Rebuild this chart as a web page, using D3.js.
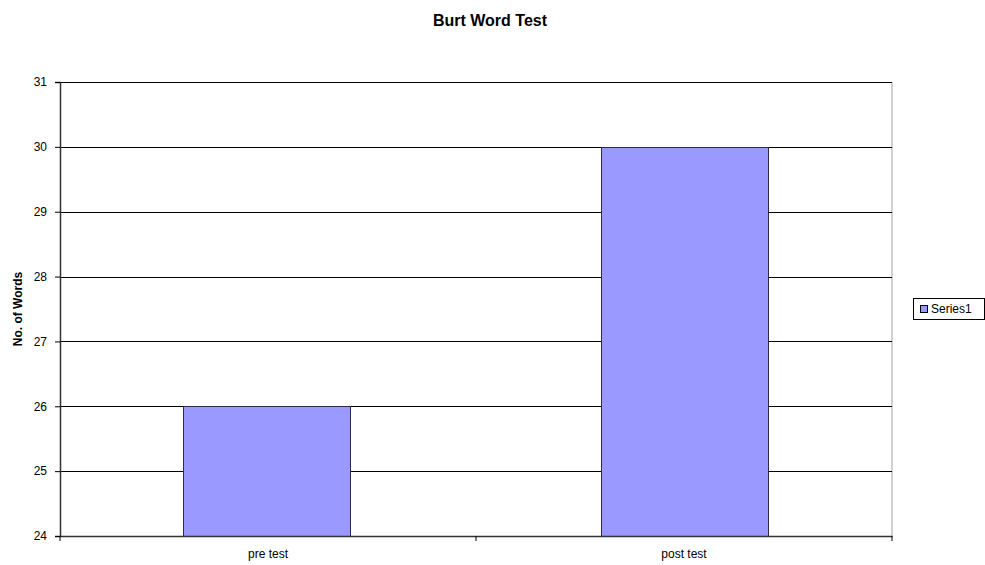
<!DOCTYPE html>
<html>
<head>
<meta charset="utf-8">
<script src="https://cdn.jsdelivr.net/npm/d3@7"></script>
<style>
  html, body { margin: 0; padding: 0; background: #fff; }
  svg { display: block; font-family: "Liberation Sans", Arial, sans-serif; }
</style>
</head>
<body>
<svg id="chart" width="985" height="565"></svg>
<script>
// Data
const categories = ["pre test", "post test"];
const series1 = [26, 30];
const yTicks = [24, 25, 26, 27, 28, 29, 30, 31];
const seriesName = "Series1";
const chartTitle = "Burt Word Test";
const yTitle = "No. of Words";

const svg = d3.select("#chart");
const plot = { left: 60, right: 892, top: 82, bottom: 536 };
const font = "'Liberation Sans', Arial, sans-serif";

const x = d3.scaleBand()
  .domain(categories)
  .range([plot.left, plot.right])
  .paddingInner(0.6)
  .paddingOuter(0.295);

const xCat = d3.scaleBand()
  .domain(categories)
  .range([plot.left, plot.right]);

const y = d3.scaleLinear()
  .domain([24, 31])
  .range([plot.bottom, plot.top]);

// Plot area right border
svg.append("line")
  .attr("x1", plot.right).attr("x2", plot.right)
  .attr("y1", plot.top).attr("y2", plot.bottom)
  .attr("stroke", "#c0c0c0").attr("stroke-width", 1.5);

// Gridlines
svg.append("g")
  .selectAll("line")
  .data(yTicks.filter(d => d > 24))
  .join("line")
  .attr("x1", plot.left).attr("x2", plot.right)
  .attr("y1", d => Math.round(y(d)) + 0.5)
  .attr("y2", d => Math.round(y(d)) + 0.5)
  .attr("stroke", "#000").attr("stroke-width", 1);

// Bars
svg.append("g")
  .selectAll("rect")
  .data(categories.map((c, i) => ({ c, v: series1[i] })))
  .join("rect")
  .attr("x", d => Math.round(x(d.c)) + 0.5)
  .attr("y", d => Math.round(y(d.v)) + 0.5)
  .attr("width", Math.round(x.bandwidth()))
  .attr("height", d => Math.round(y(24)) - Math.round(y(d.v)))
  .attr("fill", "#9999ff")
  .attr("stroke", "#2b2b4a")
  .attr("stroke-width", 1);

// Y axis
const yAxis = svg.append("g")
  .attr("transform", `translate(${plot.left},0)`)
  .call(d3.axisLeft(y).tickValues(yTicks).tickSize(5).tickPadding(8).tickFormat(d3.format("d")));
yAxis.select(".domain").attr("stroke", "#333").attr("stroke-width", 1.5);
yAxis.selectAll(".tick line").attr("stroke", "#000");
yAxis.selectAll("text").attr("font-size", 12).attr("fill", "#000").attr("font-family", font);

// X axis
const xAxis = svg.append("g")
  .attr("transform", `translate(0,${plot.bottom})`)
  .call(d3.axisBottom(xCat).tickSize(0).tickPadding(13));
xAxis.select(".domain").attr("stroke", "#333").attr("stroke-width", 1.5);
xAxis.selectAll("text").attr("font-size", 12).attr("fill", "#000").attr("font-family", font);

// Category separator ticks
svg.append("g")
  .selectAll("line")
  .data(d3.range(categories.length + 1))
  .join("line")
  .attr("x1", i => plot.left + i * xCat.step())
  .attr("x2", i => plot.left + i * xCat.step())
  .attr("y1", plot.bottom)
  .attr("y2", plot.bottom + 5)
  .attr("stroke", "#000");

// Title
svg.append("text")
  .attr("x", 490).attr("y", 26)
  .attr("text-anchor", "middle")
  .attr("font-size", 16).attr("font-weight", "bold")
  .text(chartTitle);

// Y axis title
svg.append("text")
  .attr("transform", `translate(22,${(plot.top + plot.bottom) / 2}) rotate(-90)`)
  .attr("text-anchor", "middle")
  .attr("font-size", 12).attr("font-weight", "bold")
  .text(yTitle);

// Legend
const legend = svg.append("g").attr("transform", "translate(913,298)");
legend.append("rect")
  .attr("x", 0.5).attr("y", 0.5)
  .attr("width", 71).attr("height", 21)
  .attr("fill", "#fff").attr("stroke", "#000");
legend.append("rect")
  .attr("x", 7.5).attr("y", 7.5)
  .attr("width", 7).attr("height", 7)
  .attr("fill", "#9999ff").attr("stroke", "#000");
legend.append("text")
  .attr("x", 18).attr("y", 15)
  .attr("font-size", 12)
  .text(seriesName);
</script>
</body>
</html>
